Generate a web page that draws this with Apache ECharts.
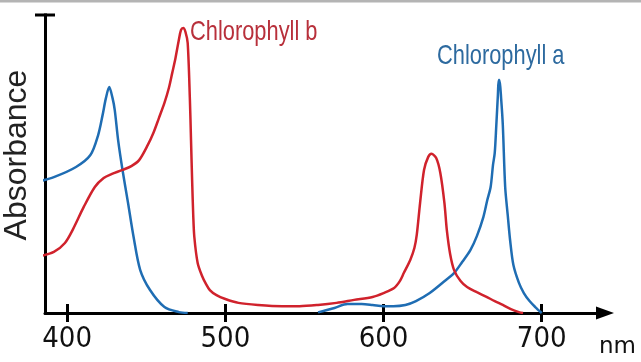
<!DOCTYPE html>
<html>
<head>
<meta charset="utf-8">
<script src="https://cdn.jsdelivr.net/npm/echarts@6/dist/echarts.min.js"></script>
<style>
  html, body { margin: 0; padding: 0; background: #fff; }
  #chart { width: 641px; height: 362px; }
</style>
</head>
<body>
<div id="chart"></div>
<script>
// Absorption spectra of chlorophyll a and b (wavelength in nm, relative absorbance)
const tickLabels = [400, 500, 600, 700];

const chlAWavelength = [381.1, 391.6, 405.6, 414.7, 419.6, 422.4, 424.5, 426.6, 428.7, 430.1, 432.2, 435.0,
  438.5, 442.0, 446.2, 452.4, 461.5, 470.6, 476.2, 520.0,
  558.6, 569.0, 577.2, 586.2, 593.1, 600.0, 606.2, 613.8, 620.5, 629.2, 639.5, 644.6, 649.7, 654.9,
  659.0, 663.1, 665.6, 667.7, 669.2, 670.3, 671.3, 672.3, 672.8, 673.3, 674.4, 675.4, 676.9, 678.5,
  680.0, 682.1, 685.6, 688.7, 692.3, 695.9, 700.0];
const chlAAbsorbance = [0.440, 0.456, 0.490, 0.530, 0.597, 0.664, 0.721, 0.758, 0.721, 0.681, 0.581, 0.480,
  0.369, 0.255, 0.144, 0.077, 0.020, 0.003, 0, null,
  0.002, 0.017, 0.030, 0.030, 0.027, 0.023, 0.023, 0.027, 0.040, 0.067, 0.111, 0.134, 0.171, 0.211,
  0.258, 0.322, 0.379, 0.423, 0.497, 0.537, 0.631, 0.732, 0.782, 0.782, 0.715, 0.631, 0.423, 0.329,
  0.245, 0.161, 0.101, 0.067, 0.040, 0.020, 0];

const chlBWavelength = [381.1, 391.6, 398.6, 403.5, 410.5, 417.5, 423.1, 428.0, 435.0, 440.6, 445.5, 451.0,
  454.5, 458.0, 461.5, 464.3, 466.4, 468.5, 470.6, 472.0, 473.4, 474.8, 476.2, 477.6, 478.3, 479.0,
  479.7, 480.4, 482.5, 485.3, 487.4, 490.2, 494.4, 500.0, 508.3, 520.7, 535.9, 546.9, 558.6, 570.3,
  581.4, 593.1, 600.0, 606.7, 610.3, 612.8, 616.9, 619.5, 621.0, 623.1, 625.6, 628.2, 630.3, 633.3,
  635.9, 638.5, 640.0, 642.1, 644.6, 648.7, 652.8, 659.0, 665.1, 670.3, 675.4, 680.5, 685.6, 688.2];
const chlBAbsorbance = [0.188, 0.205, 0.235, 0.279, 0.356, 0.423, 0.453, 0.466, 0.480, 0.493, 0.513, 0.564,
  0.604, 0.654, 0.705, 0.755, 0.805, 0.856, 0.916, 0.950, 0.956, 0.943, 0.906, 0.715, 0.581, 0.446,
  0.329, 0.255, 0.168, 0.124, 0.101, 0.077, 0.060, 0.047, 0.034, 0.027, 0.023, 0.023, 0.027, 0.034,
  0.044, 0.054, 0.067, 0.084, 0.107, 0.134, 0.178, 0.218, 0.262, 0.369, 0.480, 0.523, 0.534, 0.520,
  0.470, 0.369, 0.279, 0.198, 0.144, 0.107, 0.087, 0.070, 0.054, 0.040, 0.027, 0.013, 0.003, 0];

const zip = (xs, ys) => xs.map((x, i) => [x, ys[i]]);

const BLUE = '#1f6db3';
const RED = '#d0222c';
const NARROW = '"Noto Sans ExtraCondensed", "Noto Sans Condensed", "Liberation Sans Narrow", "DejaVu Sans Condensed", sans-serif';

const chart = echarts.init(document.getElementById('chart'), null, { renderer: 'canvas' });

const axisCommon = { min: 386, max: 740, type: 'value', position: 'bottom' };

chart.setOption({
  animation: false,
  backgroundColor: '#fff',
  grid: { left: 45, right: 36, top: 15, bottom: 49, outerBoundsMode: 'none', containLabel: false },
  graphic: [
    { type: 'rect', shape: { x: 0, y: 0, width: 641, height: 2.5 }, style: { fill: '#b4b4b4' }, silent: true },
    { type: 'text', x: 190, y: 18, scaleX: 0.78, style: { text: 'Chlorophyll b', font: '28px "Liberation Sans", Arial, sans-serif', fill: '#b8303b', verticalAlign: 'top' } },
    { type: 'text', x: 437, y: 42, scaleX: 0.78, style: { text: 'Chlorophyll a', font: '28px "Liberation Sans", Arial, sans-serif', fill: '#2d6a9f', verticalAlign: 'top' } }
  ],
  xAxis: [
    Object.assign({}, axisCommon, {
      name: 'nm',
      nameLocation: 'end',
      nameGap: -6,
      nameTextStyle: { fontFamily: 'DejaVu Sans', fontSize: 23, color: '#111', align: 'left', verticalAlign: 'top', padding: [23, 0, 0, 0] },
      axisLine: { show: true, symbol: ['none', 'triangle'], symbolSize: [13, 18], lineStyle: { color: '#000', width: 3 } },
      axisTick: { show: true, inside: false, length: 9, lineStyle: { color: '#000', width: 3 }, customValues: tickLabels },
      axisLabel: { show: true, margin: 12, fontFamily: NARROW, fontSize: 29, color: '#111', customValues: tickLabels },
      splitLine: { show: false }
    }),
    Object.assign({}, axisCommon, {
      axisLine: { show: false },
      axisTick: { show: true, inside: true, length: 9, lineStyle: { color: '#000', width: 3 }, customValues: tickLabels },
      axisLabel: { show: false },
      splitLine: { show: false }
    })
  ],
  yAxis: {
    type: 'value', min: 0, max: 1,
    name: 'Absorbance',
    nameLocation: 'middle',
    nameRotate: 90,
    nameGap: 12,
    nameTextStyle: { fontFamily: 'Liberation Sans', fontSize: 32, color: '#222', padding: [0, 0, 0, 18] },
    axisLine: { show: true, symbol: ['none', 'rect'], symbolSize: [20, 3], lineStyle: { color: '#000', width: 3, cap: 'square' } },
    axisTick: { show: false },
    axisLabel: { show: false },
    splitLine: { show: false }
  },
  series: [
    {
      name: 'Chlorophyll a', type: 'line', data: zip(chlAWavelength, chlAAbsorbance),
      showSymbol: false, smooth: 0.3, connectNulls: false, clip: true,
      lineStyle: { color: BLUE, width: 2.5 }
    },
    {
      name: 'Chlorophyll b', type: 'line', data: zip(chlBWavelength, chlBAbsorbance),
      showSymbol: false, smooth: 0.3, clip: true,
      lineStyle: { color: RED, width: 2.5 }
    }
  ]
});
</script>
</body>
</html>
